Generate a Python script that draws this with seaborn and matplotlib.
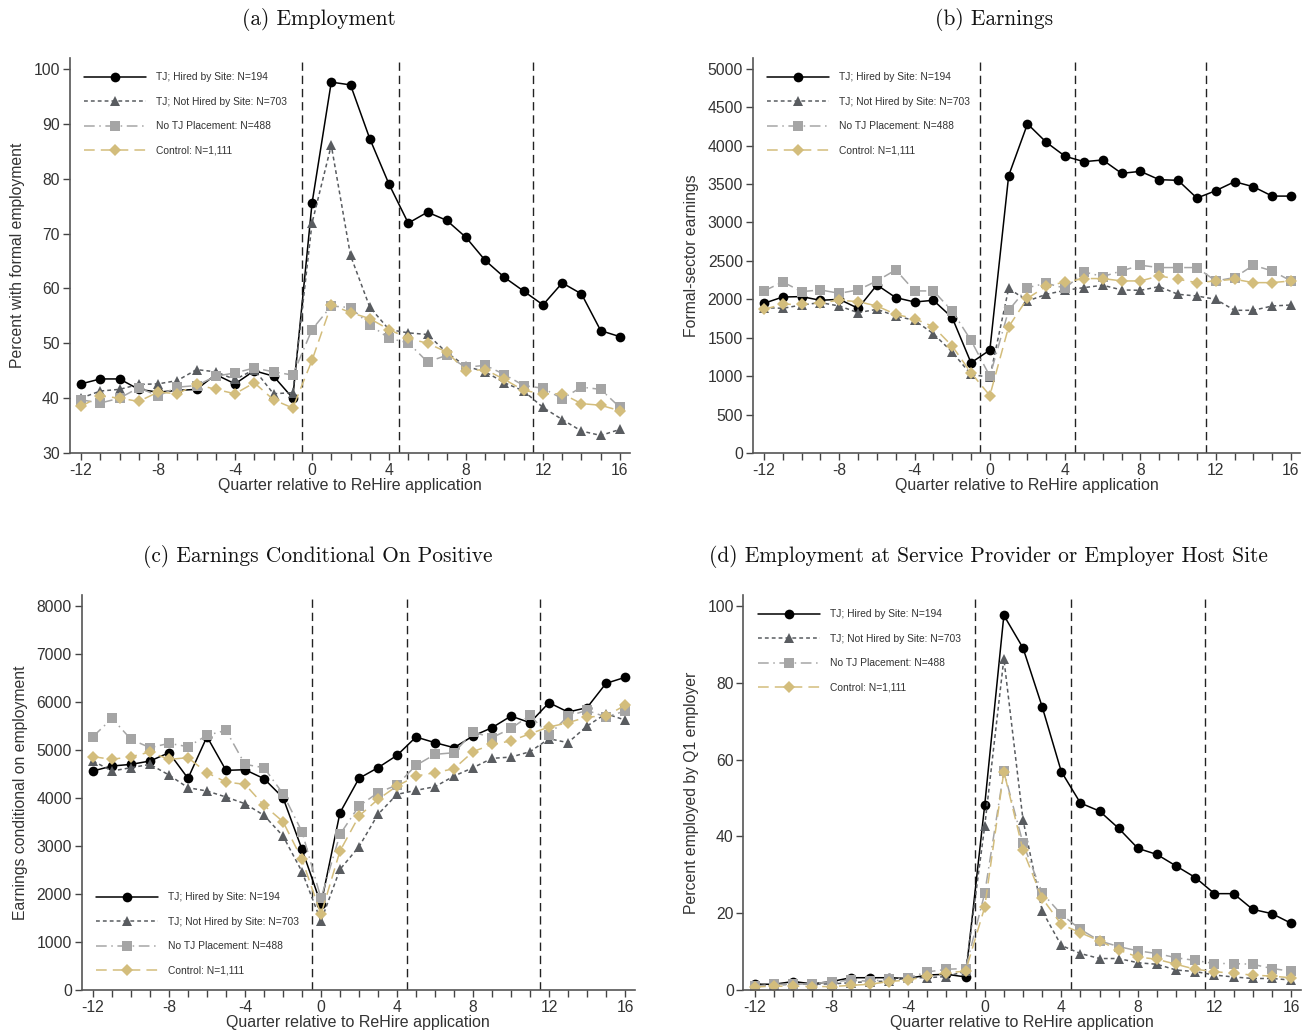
import numpy as np
import matplotlib
matplotlib.use("Agg")
import matplotlib.pyplot as plt
from matplotlib import font_manager
import seaborn as sns

# quarters relative to ReHire application
quarters = list(range(-12, 17))

# (a) Employment
emp_hired = [42.6, 43.5, 43.5, 41.6, 41.1, 41.4, 41.6, 44.3, 42.6, 45.0, 44.0, 40.0,
             75.5, 97.6, 97.1, 87.3, 79.0, 71.9, 73.9, 72.4, 69.3, 65.1, 62.0, 59.5,
             57.0, 61.0, 59.0, 52.3, 51.2]
emp_nothired = [40.0, 41.3, 41.6, 42.5, 42.6, 43.2, 45.2, 44.8, 43.4, 45.2, 40.8, 41.0,
                71.9, 86.1, 66.0, 56.6, 52.5, 51.9, 51.6, 48.3, 45.8, 44.8, 42.8, 41.3,
                38.3, 36.1, 34.0, 33.2, 34.3]
emp_notj = [39.7, 39.1, 40.0, 41.9, 40.4, 42.0, 42.3, 44.0, 44.6, 45.5, 44.8, 44.2,
            52.5, 56.8, 56.5, 53.4, 50.9, 50.1, 46.6, 47.8, 45.6, 46.0, 44.3, 42.3,
            41.8, 39.9, 42.0, 41.6, 38.3]
emp_control = [38.5, 40.4, 40.0, 39.4, 41.1, 40.8, 42.5, 41.6, 40.8, 42.8, 39.7, 38.2,
               46.9, 57.0, 55.6, 54.5, 52.5, 50.9, 50.0, 48.4, 45.0, 45.2, 43.4, 41.4,
               40.8, 40.8, 39.0, 38.7, 37.7]

# (b) Earnings
earn_hired = [1948, 2030, 2035, 1987, 2000, 1883, 2187, 2022, 1965, 1987, 1761, 1174,
              1339, 3609, 4283, 4043, 3861, 3791, 3813, 3639, 3665, 3557, 3548, 3317,
              3413, 3530, 3465, 3343, 3343]
earn_nothired = [1891, 1883, 1926, 1957, 1913, 1826, 1870, 1783, 1726, 1552, 1313, 1022,
                 985, 2143, 1978, 2065, 2117, 2152, 2183, 2122, 2117, 2165, 2065, 2043,
                 2000, 1857, 1857, 1913, 1926]
earn_notj = [2109, 2226, 2100, 2122, 2078, 2122, 2239, 2383, 2109, 2109, 1848, 1465,
             1000, 1857, 2152, 2209, 2143, 2357, 2296, 2370, 2443, 2413, 2413, 2413,
             2239, 2283, 2443, 2370, 2239]
earn_control = [1870, 1935, 1935, 1957, 1987, 1970, 1913, 1804, 1748, 1643, 1391, 1043,
                748, 1643, 2013, 2170, 2226, 2270, 2270, 2239, 2239, 2304, 2261, 2217,
                2239, 2261, 2217, 2217, 2239]

# (c) Earnings conditional on positive
cond_hired = [4563, 4667, 4701, 4771, 4944, 4410, 5278, 4576, 4590, 4403, 4007, 2931,
              1785, 3694, 4410, 4632, 4889, 5271, 5153, 5049, 5292, 5465, 5708, 5569,
              5986, 5792, 5882, 6389, 6514]
cond_nothired = [4771, 4563, 4632, 4701, 4479, 4215, 4146, 4021, 3882, 3639, 3208, 2465,
                 1437, 2514, 2986, 3660, 4076, 4160, 4236, 4458, 4632, 4826, 4854, 4965,
                 5236, 5153, 5500, 5757, 5625]
cond_notj = [5278, 5660, 5222, 5049, 5139, 5069, 5306, 5410, 4701, 4632, 4090, 3299,
             1910, 3243, 3833, 4111, 4271, 4681, 4910, 4944, 5375, 5257, 5451, 5722,
             5313, 5708, 5826, 5688, 5813]
cond_control = [4861, 4806, 4861, 4958, 4806, 4840, 4528, 4333, 4285, 3847, 3507, 2722,
                1576, 2896, 3625, 3972, 4250, 4458, 4528, 4611, 4965, 5118, 5188, 5340,
                5479, 5569, 5688, 5708, 5931]

# (d) Employment at service provider or host site
site_hired = [1.5, 1.5, 2.2, 1.6, 2.2, 3.2, 3.2, 3.2, 3.0, 3.9, 4.1, 3.4,
              48.2, 97.6, 89.1, 73.8, 56.9, 48.7, 46.6, 42.1, 36.9, 35.3, 32.3, 29.3,
              25.1, 25.1, 21.0, 19.9, 17.4]
site_nothired = [1.0, 1.3, 1.5, 1.5, 1.6, 1.9, 2.2, 2.3, 3.2, 3.2, 3.5, 4.9,
                 42.7, 86.3, 44.3, 20.6, 11.6, 9.5, 8.2, 8.2, 7.1, 6.7, 5.2, 4.8,
                 3.9, 3.4, 3.0, 3.0, 2.6]
site_notj = [1.0, 1.5, 1.5, 1.6, 2.2, 2.5, 2.3, 2.8, 3.2, 4.7, 5.4, 5.6,
             25.2, 57.0, 38.2, 25.3, 19.7, 15.8, 12.8, 11.3, 10.2, 9.5, 8.4, 7.7,
             6.9, 6.9, 6.7, 5.6, 4.9]
site_control = [0.8, 1.0, 1.0, 0.9, 0.9, 1.2, 1.5, 2.2, 2.6, 3.6, 4.5, 4.9,
                21.6, 56.9, 36.4, 23.9, 17.1, 14.9, 12.8, 10.4, 8.6, 8.0, 6.7, 5.4,
                4.8, 4.3, 3.9, 3.6, 3.2]

group_labels = ["TJ; Hired by Site: N=194", "TJ; Not Hired by Site: N=703",
                "No TJ Placement: N=488", "Control: N=1,111"]
cutoffs = [-0.5, 4.5, 11.5]

sns.set_style("ticks")
installed = {f.name for f in font_manager.fontManager.ttflist}
sans = "Liberation Sans Narrow" if "Liberation Sans Narrow" in installed else "Liberation Sans"
plt.rcParams["font.family"] = [sans, "DejaVu Sans"]
plt.rcParams["axes.unicode_minus"] = False

styles = [
    dict(color="black", marker="o", linestyle="-", markersize=7),
    dict(color="#595c60", marker="^", linestyle=(0, (2.5, 2)), markersize=7.5),
    dict(color="#a5a5a5", marker="s", linestyle=(0, (7, 3, 1, 3)), markersize=6.5),
    dict(color="#d3bd7c", marker="D", linestyle=(0, (7, 4)), markersize=6.5),
]

fig = plt.figure(figsize=(13.1, 10.36), dpi=100)
W, H = 1310, 1036


def make_ax(left, right, top, bottom):
    return fig.add_axes([left / W, 1 - bottom / H, (right - left) / W, (bottom - top) / H])


panels = [
    dict(box=(69.5, 629.6, 58, 453), data=[emp_hired, emp_nothired, emp_notj, emp_control],
         title="(a) Employment", tx=0.446, ylabel="Percent with formal employment",
         ylim=(30, 102), yticks=np.arange(30, 101, 10), leg=("upper left", (0.0, 1.0))),
    dict(box=(752.7, 1300.4, 58, 453), data=[earn_hired, earn_nothired, earn_notj, earn_control],
         title="(b) Earnings", tx=0.44, ylabel="Formal-sector earnings",
         ylim=(0, 5140), yticks=np.arange(0, 5001, 500), leg=("upper left", (0.0, 1.0))),
    dict(box=(81.6, 634.5, 595, 990), data=[cond_hired, cond_nothired, cond_notj, cond_control],
         title="(c) Earnings Conditional On Positive", tx=0.428,
         ylabel="Earnings conditional on employment",
         ylim=(0, 8230), yticks=np.arange(0, 8001, 1000), leg=("lower left", (0.0, 0.0))),
    dict(box=(743.5, 1300.6, 595, 990), data=[site_hired, site_nothired, site_notj, site_control],
         title="(d) Employment at Service Provider or Employer Host Site", tx=0.44,
         ylabel="Percent employed by Q1 employer",
         ylim=(0, 102.9), yticks=np.arange(0, 101, 20), leg=("upper left", (0.0, 1.0))),
]

for p in panels:
    ax = make_ax(*p["box"])
    for vals, lab, st in zip(p["data"], group_labels, styles):
        sns.lineplot(x=quarters, y=vals, ax=ax, label=lab, color=st["color"],
                     marker=st["marker"], linestyle=st["linestyle"],
                     markersize=st["markersize"], markeredgecolor=st["color"],
                     markeredgewidth=0, linewidth=1.1)
    for c in cutoffs:
        ax.axvline(c, color="#222222", linestyle=(0, (6, 3.5)), linewidth=1.0, zorder=0)

    ax.set_xlim(-12.6, 16.5)
    ax.set_ylim(*p["ylim"])
    ax.set_xticks(quarters)
    ax.set_xticklabels([str(q) if q % 4 == 0 else "" for q in quarters])
    ax.set_yticks(p["yticks"])
    ax.set_yticklabels([str(int(v)) for v in p["yticks"]])
    ax.tick_params(axis="both", direction="out", length=5, width=1, color="#444444",
                   labelsize=11.3, labelcolor="#333333", pad=2)
    ax.set_xlabel("Quarter relative to ReHire application", fontsize=11.5, color="#333333", labelpad=0)
    ax.set_ylabel(p["ylabel"], fontsize=11.3, color="#333333", labelpad=6)
    for side in ["top", "right"]:
        ax.spines[side].set_visible(False)
    for side in ["left", "bottom"]:
        ax.spines[side].set_color("#555555")
        ax.spines[side].set_linewidth(1.2)

    ax.set_title(p["title"], x=p["tx"], fontsize=15.4, pad=24,
                 family=["cmr10", "DejaVu Serif"], color="#111111")

    loc, anchor = p["leg"]
    leg = ax.legend(loc=loc, bbox_to_anchor=anchor, frameon=False, fontsize=7.4,
                    handlelength=6.0, handletextpad=1.0, labelspacing=1.4,
                    borderaxespad=1.2, borderpad=0.2)
    for t in leg.get_texts():
        t.set_color("#333333")

fig.savefig("out.png", dpi=100)
